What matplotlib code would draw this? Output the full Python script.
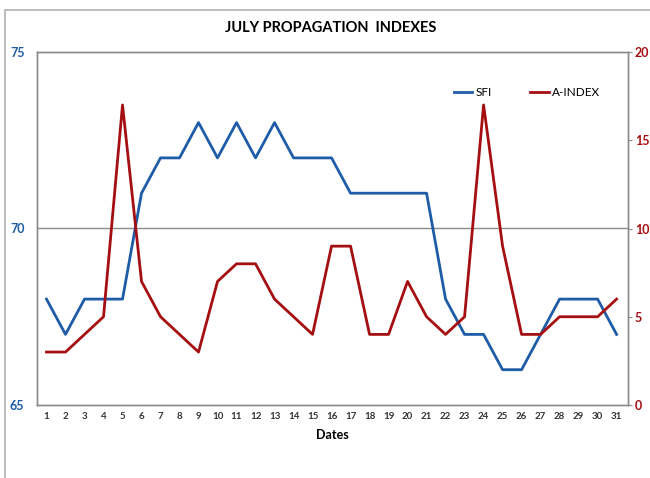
import matplotlib
matplotlib.use('Agg')
from matplotlib import pyplot as plt
from matplotlib.lines import Line2D
from matplotlib.patches import Rectangle

plt.rcParams['font.family'] = ['Lato', 'DejaVu Sans']
plt.rcParams['font.weight'] = 'bold'

dates = list(range(1, 32))
sfi = [68, 67, 68, 68, 68, 71, 72, 72, 73, 72, 73, 72, 73, 72, 72, 72,
       71, 71, 71, 71, 71, 68, 67, 67, 66, 66, 67, 68, 68, 68, 67]
a_index = [3, 3, 4, 5, 17, 7, 5, 4, 3, 7, 8, 8, 6, 5, 4, 9,
           9, 4, 4, 7, 5, 4, 5, 17, 9, 4, 4, 5, 5, 5, 6]
sfi_ticks = [65, 70, 75]
a_ticks = [0, 5, 10, 15, 20]

BLUE = '#1f5ca8'
RED = '#a50f12'
GRAY = '#8c8c8c'

fig = plt.figure(figsize=(6.5, 4.78), dpi=100)
# outer chart border (cropped on right and bottom)
fig.patches.append(Rectangle((5/650, -0.1), 1.2, 1 - 10/478 + 0.1, transform=fig.transFigure,
                             fill=False, edgecolor='#b0b0b0', linewidth=1.2))

ax1 = fig.add_axes([37/650, 73/478, 591/650, 353/478])
ax2 = ax1.twinx()

ax1.plot(dates, sfi, color=BLUE, linewidth=2, label='SFI')
ax2.plot(dates, a_index, color=RED, linewidth=2, label='A-INDEX')

ax1.set_xlim(0.5, 31.6)
ax1.set_ylim(65, 75)
ax2.set_ylim(0, 20)
ax1.set_yticks(sfi_ticks)
ax2.set_yticks(a_ticks)
ax1.set_xticks(dates)

ax1.tick_params(axis='y', length=0, pad=9, labelsize=9, labelcolor=BLUE)
ax2.tick_params(axis='y', length=3, pad=2, labelsize=9, labelcolor=RED, color=GRAY)
ax1.tick_params(axis='x', length=0, pad=5, labelsize=7, labelcolor='#333333')

ax1.axhline(70, color=GRAY, linewidth=1, zorder=0)
for ax in (ax1, ax2):
    for s in ax.spines.values():
        s.set_color(GRAY)
        s.set_linewidth(1)

ax1.set_xlabel('Dates', fontsize=9, fontweight='bold', labelpad=6)
fig.text(0.508, 1 - 28/478, 'JULY PROPAGATION  INDEXES', ha='center', va='center',
         fontsize=10.5, fontweight='bold')

handles = [Line2D([], [], color=BLUE, linewidth=2), Line2D([], [], color=RED, linewidth=2)]
ax2.legend(handles, ['SFI', 'A-INDEX'], loc='upper right', bbox_to_anchor=(0.9715, 0.93),
           ncol=2, frameon=False, prop={'size': 8.5, 'weight': 'normal'}, handlelength=1.6,
           handletextpad=0.3, columnspacing=3.2)

fig.savefig('out.png', dpi=100)
